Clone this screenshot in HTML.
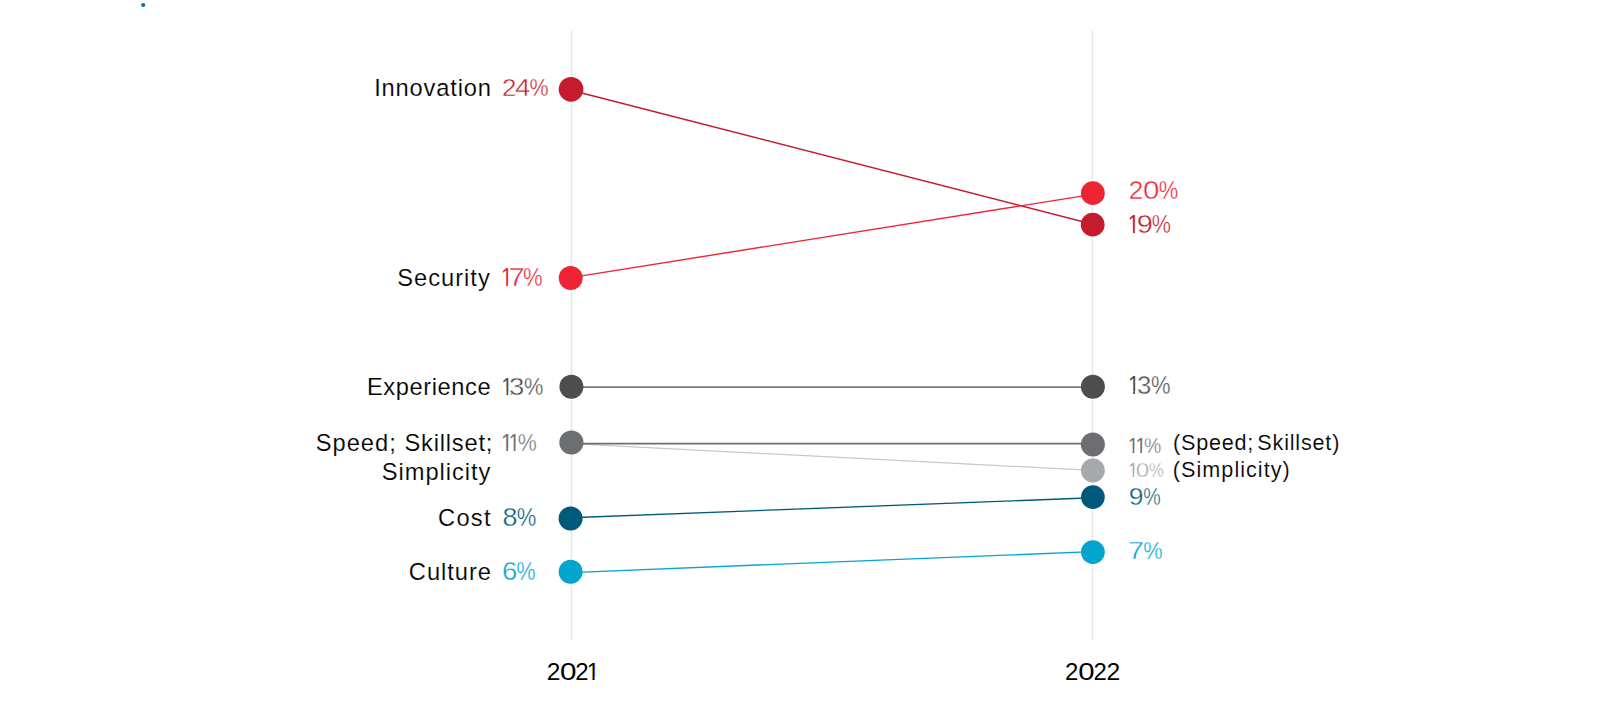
<!DOCTYPE html>
<html lang="en"><head><meta charset="utf-8"><title>Slope chart 2021 vs 2022</title>
<style>html,body{margin:0;padding:0;background:#fff}body{width:1600px;height:711px;overflow:hidden}svg{display:block}text{font-family:"Liberation Sans",Arial,sans-serif;}.t{stroke:#fff;stroke-width:.38px;paint-order:fill stroke}.o{stroke:none}.u{stroke:#fff;stroke-width:.15px;paint-order:fill stroke}</style></head><body>
<svg width="1600" height="711" viewBox="0 0 1600 711">
<rect width="1600" height="711" fill="#fff"/>
<circle cx="143.2" cy="5" r="2.1" fill="#0073a8"/>
<line x1="571.6" y1="30.8" x2="571.6" y2="640.6" stroke="#e5e6e8" stroke-width="1.4"/>
<line x1="1092.45" y1="30.8" x2="1092.45" y2="640.6" stroke="#e5e6e8" stroke-width="1.4"/>
<line x1="571.0" y1="90.3" x2="1092.7" y2="224.2" stroke="#c41c2c" stroke-width="1.4"/>
<line x1="570.7" y1="277.6" x2="1092.8" y2="194.4" stroke="#ee2434" stroke-width="1.4"/>
<line x1="571.3" y1="387.1" x2="1092.9" y2="387.1" stroke="#7a7a7c" stroke-width="1.7"/>
<line x1="571.4" y1="443.65" x2="1092.9" y2="470.4" stroke="#c6c8ca" stroke-width="1.3"/>
<line x1="571.4" y1="443.65" x2="1092.9" y2="443.65" stroke="#6d6e71" stroke-width="1.6"/>
<line x1="570.6" y1="517.7" x2="1092.9" y2="497.8" stroke="#00597a" stroke-width="1.4"/>
<line x1="570.6" y1="572.6" x2="1092.9" y2="551.6" stroke="#03a5ce" stroke-width="1.4"/>
<circle cx="571.05" cy="89.3" r="12.35" fill="#c41c2c"/>
<circle cx="570.7" cy="278.05" r="11.95" fill="#ee2434"/>
<circle cx="571.4" cy="386.8" r="12.0" fill="#4d4d4f"/>
<circle cx="571.4" cy="442.5" r="12.1" fill="#6d6e71"/>
<circle cx="570.6" cy="518.5" r="12.0" fill="#00597a"/>
<circle cx="570.6" cy="571.7" r="12.0" fill="#03a5ce"/>
<circle cx="1092.85" cy="193.15" r="11.9" fill="#ee2434"/>
<circle cx="1092.7" cy="224.65" r="11.9" fill="#c41c2c"/>
<circle cx="1092.9" cy="386.8" r="12.0" fill="#4d4d4f"/>
<circle cx="1092.9" cy="444.6" r="12.0" fill="#6d6e71"/>
<circle cx="1092.9" cy="470.5" r="11.9" fill="#a7a9ac"/>
<circle cx="1092.9" cy="497.1" r="11.85" fill="#00597a"/>
<circle cx="1092.9" cy="552.1" r="11.9" fill="#03a5ce"/>
<text id="n1" class="u" y="95.90" font-size="23.70" fill="#000"><tspan id="n1_0" x="374.17" textLength="116.84" lengthAdjust="spacing">Innovation</tspan></text>
<text id="n2" class="u" y="285.90" font-size="23.70" fill="#000"><tspan id="n2_0" x="397.28" textLength="92.49" lengthAdjust="spacing">Security</tspan></text>
<text id="n3" class="u" y="395.00" font-size="23.70" fill="#000"><tspan id="n3_0" x="366.89" textLength="123.80" lengthAdjust="spacing">Experience</tspan></text>
<text id="n4" class="u" y="450.70" font-size="23.70" fill="#000"><tspan id="n4_0" x="315.81" textLength="79.91" lengthAdjust="spacing">Speed;</tspan> <tspan id="n4_1" x="404.46" textLength="87.93" lengthAdjust="spacing">Skillset;</tspan></text>
<text id="n5" class="u" y="479.70" font-size="23.70" fill="#000"><tspan id="n5_0" x="381.78" textLength="108.67" lengthAdjust="spacing">Simplicity</tspan></text>
<text id="n6" class="u" y="526.40" font-size="23.70" fill="#000"><tspan id="n6_0" x="438.08" textLength="52.45" lengthAdjust="spacing">Cost</tspan></text>
<text id="n7" class="u" y="579.70" font-size="23.70" fill="#000"><tspan id="n7_0" x="408.84" textLength="82.17" lengthAdjust="spacing">Culture</tspan></text>
<text id="v1" class="t" y="96.00" font-size="24.78" fill="#c41c2c"><tspan id="v1_0" x="502.03" textLength="14.42" lengthAdjust="spacingAndGlyphs">2</tspan><tspan id="v1_1" x="514.95" textLength="15.43" lengthAdjust="spacingAndGlyphs">4</tspan><tspan id="v1_2" x="529.51" textLength="19.02" lengthAdjust="spacingAndGlyphs">%</tspan></text>
<text id="v2" class="t" y="286.05" font-size="24.93" fill="#ee2434"><tspan id="v2_0" class="o" x="500.99" textLength="11.58" lengthAdjust="spacingAndGlyphs">1</tspan><tspan id="v2_1" x="508.83" textLength="15.97" lengthAdjust="spacingAndGlyphs">7</tspan><tspan id="v2_2" x="522.92" textLength="19.68" lengthAdjust="spacingAndGlyphs">%</tspan></text>
<text id="v3" class="t" y="395.05" font-size="24.78" fill="#4d4d4f"><tspan id="v3_0" class="o" x="501.41" textLength="10.97" lengthAdjust="spacingAndGlyphs">1</tspan><tspan id="v3_1" x="509.12" textLength="15.36" lengthAdjust="spacingAndGlyphs">3</tspan><tspan id="v3_2" x="523.95" textLength="19.36" lengthAdjust="spacingAndGlyphs">%</tspan></text>
<text id="v4" class="t" y="451.30" font-size="24.78" fill="#6d6e71"><tspan id="v4_0" class="o" x="501.10" textLength="11.62" lengthAdjust="spacingAndGlyphs">1</tspan><tspan id="v4_1" class="o" x="508.87" textLength="10.96" lengthAdjust="spacingAndGlyphs">1</tspan><tspan id="v4_2" x="517.70" textLength="19.02" lengthAdjust="spacingAndGlyphs">%</tspan></text>
<text id="v5" class="t" y="525.90" font-size="24.93" fill="#00597a"><tspan id="v5_0" x="502.53" textLength="14.97" lengthAdjust="spacingAndGlyphs">8</tspan><tspan id="v5_1" x="516.80" textLength="19.60" lengthAdjust="spacingAndGlyphs">%</tspan></text>
<text id="v6" class="t" y="579.90" font-size="24.93" fill="#03a5ce"><tspan id="v6_0" x="502.10" textLength="15.35" lengthAdjust="spacingAndGlyphs">6</tspan><tspan id="v6_1" x="516.22" textLength="19.38" lengthAdjust="spacingAndGlyphs">%</tspan></text>
<text id="r1" class="t" y="199.20" font-size="25.07" fill="#ee2434"><tspan id="r1_0" x="1128.78" textLength="14.58" lengthAdjust="spacingAndGlyphs">2</tspan><tspan id="r1_1" x="1142.98" textLength="16.44" lengthAdjust="spacingAndGlyphs">0</tspan><tspan id="r1_2" x="1158.64" textLength="19.51" lengthAdjust="spacingAndGlyphs">%</tspan></text>
<text id="r2" class="t" y="233.00" font-size="25.07" fill="#c41c2c"><tspan id="r2_0" class="o" x="1127.78" textLength="11.61" lengthAdjust="spacingAndGlyphs">1</tspan><tspan id="r2_1" x="1136.89" textLength="16.18" lengthAdjust="spacingAndGlyphs">9</tspan><tspan id="r2_2" x="1151.85" textLength="19.17" lengthAdjust="spacingAndGlyphs">%</tspan></text>
<text id="r3" class="t" y="393.70" font-size="24.93" fill="#4d4d4f"><tspan id="r3_0" class="o" x="1127.94" textLength="11.54" lengthAdjust="spacingAndGlyphs">1</tspan><tspan id="r3_1" x="1137.08" textLength="14.39" lengthAdjust="spacingAndGlyphs">3</tspan><tspan id="r3_2" x="1150.99" textLength="19.58" lengthAdjust="spacingAndGlyphs">%</tspan></text>
<text id="r4" class="t" y="453.05" font-size="22.61" fill="#6d6e71"><tspan id="r4_0" class="o" x="1128.01" textLength="10.23" lengthAdjust="spacingAndGlyphs">1</tspan><tspan id="r4_1" class="o" x="1135.51" textLength="10.59" lengthAdjust="spacingAndGlyphs">1</tspan><tspan id="r4_2" x="1143.90" textLength="17.29" lengthAdjust="spacingAndGlyphs">%</tspan></text>
<text id="r5" class="t" y="476.50" font-size="20.29" fill="#a7a9ac"><tspan id="r5_0" class="o" x="1128.14" textLength="9.73" lengthAdjust="spacingAndGlyphs">1</tspan><tspan id="r5_1" x="1135.80" textLength="13.50" lengthAdjust="spacingAndGlyphs">0</tspan><tspan id="r5_2" x="1149.12" textLength="14.79" lengthAdjust="spacingAndGlyphs">%</tspan></text>
<text id="r6" class="t" y="505.15" font-size="23.04" fill="#00597a"><tspan id="r6_0" x="1128.81" textLength="14.73" lengthAdjust="spacingAndGlyphs">9</tspan><tspan id="r6_1" x="1143.30" textLength="17.49" lengthAdjust="spacingAndGlyphs">%</tspan></text>
<text id="r7" class="t" y="558.60" font-size="24.78" fill="#03a5ce"><tspan id="r7_0" x="1128.07" textLength="15.83" lengthAdjust="spacingAndGlyphs">7</tspan><tspan id="r7_1" x="1143.16" textLength="19.39" lengthAdjust="spacingAndGlyphs">%</tspan></text>
<text id="p1" class="u" y="450.45" font-size="21.59" fill="#000"><tspan id="p1_0" x="1172.95" textLength="80.40" lengthAdjust="spacing">(Speed;</tspan> <tspan id="p1_1" x="1257.33" textLength="82.01" lengthAdjust="spacing">Skillset)</tspan></text>
<text id="p2" class="u" y="476.75" font-size="21.59" fill="#000"><tspan id="p2_0" x="1172.87" textLength="116.85" lengthAdjust="spacing">(Simplicity)</tspan></text>
<text id="y1" y="680.20" font-size="24.49" fill="#000"><tspan id="y1_0" x="546.82" textLength="13.64" lengthAdjust="spacingAndGlyphs">2</tspan><tspan id="y1_1" x="560.14" textLength="16.46" lengthAdjust="spacingAndGlyphs">0</tspan><tspan id="y1_2" x="575.33" textLength="13.43" lengthAdjust="spacingAndGlyphs">2</tspan><tspan id="y1_3" class="o" x="586.73" textLength="12.77" lengthAdjust="spacingAndGlyphs">1</tspan></text>
<text id="y2" y="680.20" font-size="24.49" fill="#000"><tspan id="y2_0" x="1065.12" textLength="13.34" lengthAdjust="spacingAndGlyphs">2</tspan><tspan id="y2_1" x="1078.22" textLength="16.31" lengthAdjust="spacingAndGlyphs">0</tspan><tspan id="y2_2" x="1093.48" textLength="13.31" lengthAdjust="spacingAndGlyphs">2</tspan><tspan id="y2_3" x="1106.52" textLength="13.77" lengthAdjust="spacingAndGlyphs">2</tspan></text>
<rect x="501.86" y="283.45" width="4.36" height="3.4" fill="#fff"/>
<rect x="508.00" y="283.45" width="5.16" height="3.4" fill="#fff"/>
<rect x="502.07" y="392.45" width="4.37" height="3.4" fill="#fff"/>
<rect x="508.21" y="392.45" width="2.56" height="3.4" fill="#fff"/>
<rect x="501.86" y="448.70" width="4.37" height="3.4" fill="#fff"/>
<rect x="508.00" y="448.70" width="2.56" height="3.4" fill="#fff"/>
<rect x="509.46" y="448.70" width="4.22" height="3.4" fill="#fff"/>
<rect x="515.46" y="448.70" width="5.74" height="3.4" fill="#fff"/>
<rect x="1128.62" y="230.40" width="4.38" height="3.4" fill="#fff"/>
<rect x="1134.84" y="230.40" width="3.74" height="3.4" fill="#fff"/>
<rect x="1128.62" y="391.10" width="4.58" height="3.4" fill="#fff"/>
<rect x="1135.00" y="391.10" width="3.58" height="3.4" fill="#fff"/>
<rect x="1128.77" y="450.45" width="3.83" height="3.4" fill="#fff"/>
<rect x="1134.27" y="450.45" width="3.05" height="3.4" fill="#fff"/>
<rect x="1136.22" y="450.45" width="4.04" height="3.4" fill="#fff"/>
<rect x="1141.98" y="450.45" width="5.28" height="3.4" fill="#fff"/>
<rect x="1128.77" y="473.90" width="3.83" height="3.4" fill="#fff"/>
<rect x="1134.22" y="473.90" width="2.74" height="3.4" fill="#fff"/>
<rect x="587.65" y="677.60" width="4.88" height="3.4" fill="#fff"/>
<rect x="594.55" y="677.60" width="6.00" height="3.4" fill="#fff"/>
</svg></body></html>
